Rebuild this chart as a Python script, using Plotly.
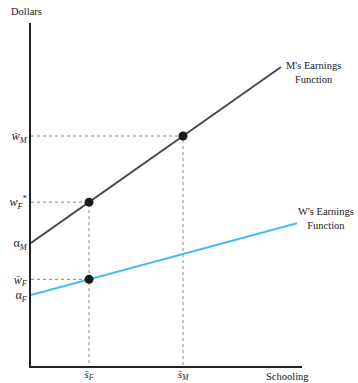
import plotly.graph_objects as go

# Schooling positions (axis units)
s_F = 5.8
s_M = 15.2
x_max = 27.1
y_max = 34.3

# Earnings function parameters
alpha_M = 12.3
beta_M = 0.704
alpha_F = 7.1
beta_F = 0.27
m_end = 25.0
w_end = 26.6

# Wage levels
w_M_bar = alpha_M + beta_M * s_M
w_F_star = alpha_M + beta_M * s_F
w_F_bar = alpha_F + beta_F * s_F

y_tickvals = [w_M_bar, w_F_star, alpha_M, w_F_bar, alpha_F]
y_ticktext = ["<i>w\u0304</i><sub><i>M</i></sub>", "<i>w</i><sub><i>F</i></sub><sup>*</sup>",
              "\u03b1<sub><i>M</i></sub>", "<i>w\u0304</i><sub><i>F</i></sub>", "\u03b1<sub><i>F</i></sub>"]
x_tickvals = [s_F, s_M]
x_ticktext = ["<i>s\u0304</i><sub><i>F</i></sub>", "<i>s\u0304</i><sub><i>M</i></sub>"]

SERIF = "Liberation Serif"
fig = go.Figure()

dot = dict(color="#888", width=1, dash="dot")
# guide lines
fig.add_trace(go.Scatter(x=[0, s_M, s_M], y=[w_M_bar, w_M_bar, 0], mode="lines", line=dot, hoverinfo="skip"))
fig.add_trace(go.Scatter(x=[0, s_F, s_F], y=[w_F_star, w_F_star, 0], mode="lines", line=dot, hoverinfo="skip"))
fig.add_trace(go.Scatter(x=[0, s_F], y=[w_F_bar, w_F_bar], mode="lines", line=dot, hoverinfo="skip"))

# earnings functions
fig.add_trace(go.Scatter(x=[0, m_end], y=[alpha_M, alpha_M + beta_M * m_end], mode="lines",
                         line=dict(color="#4a4a4a", width=2)))
fig.add_trace(go.Scatter(x=[0, w_end], y=[alpha_F, alpha_F + beta_F * w_end], mode="lines",
                         line=dict(color="#45bdf0", width=2)))

# points
fig.add_trace(go.Scatter(x=[s_F, s_M, s_F], y=[w_F_star, w_M_bar, w_F_bar], mode="markers",
                         marker=dict(color="#1a1a1a", size=9)))

lab_font = dict(family=SERIF, size=10.5, color="#222")
fig.add_annotation(x=1.041, y=0.898, xref="paper", yref="paper", xanchor="center",
                   text="M's Earnings<br>Function", showarrow=False, font=lab_font)
fig.add_annotation(x=1.089, y=0.431, xref="paper", yref="paper", xanchor="center",
                   text="W's Earnings<br>Function", showarrow=False, font=lab_font)
fig.add_annotation(x=-0.018, y=1, xref="paper", yref="paper", xanchor="center",
                   yanchor="bottom", yshift=4,
                   text="Dollars", showarrow=False, font=lab_font)
fig.add_annotation(x=0.948, y=0, xref="paper", yref="paper", xanchor="center",
                   yanchor="top", yshift=-3,
                   text="Schooling", showarrow=False, font=lab_font)

fig.update_layout(
    width=358, height=383,
    margin=dict(l=31, r=56, t=23, b=17),
    plot_bgcolor="white", paper_bgcolor="white",
    showlegend=False,
    font=dict(family=SERIF, size=12, color="#222"),
    xaxis=dict(range=[0, x_max], showgrid=False, zeroline=False, showline=True,
               linecolor="#222", linewidth=1.5, tickvals=x_tickvals, ticktext=x_ticktext,
               ticks="", fixedrange=True, automargin=False, tickfont=dict(size=11),
               ticklabelstandoff=-3),
    yaxis=dict(range=[0, y_max], showgrid=False, zeroline=False, showline=True,
               linecolor="#222", linewidth=1.5, tickvals=y_tickvals, ticktext=y_ticktext,
               ticks="", fixedrange=True, automargin=False),
)
fig.write_html("out.html", config={"displayModeBar": False},
               post_script="document.body.style.margin='0';")
